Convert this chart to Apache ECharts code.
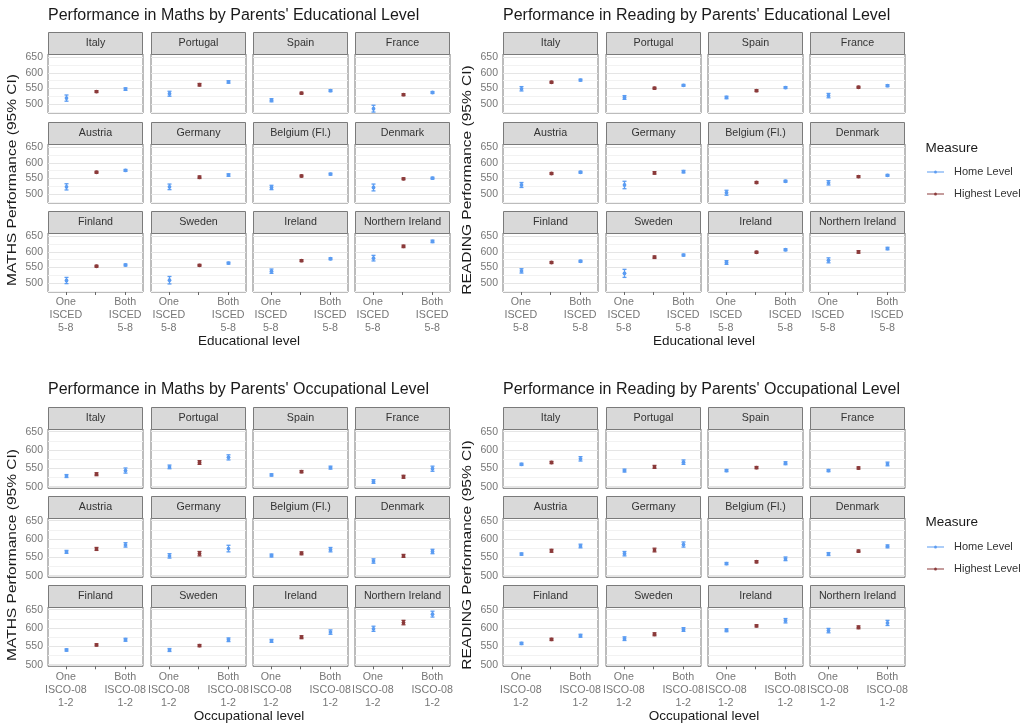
<!DOCTYPE html>
<html><head><meta charset="utf-8">
<script src="https://cdn.jsdelivr.net/npm/echarts@6/dist/echarts.min.js"></script>
<style>html,body{margin:0;padding:0;background:#fff}#c{width:1029px;height:725px}</style>
</head><body><div id="c"></div>
<script>
// ---------- DATA ----------
const countries = ['Italy','Portugal','Spain','France','Austria','Germany','Belgium (Fl.)','Denmark','Finland','Sweden','Ireland','Northern Ireland'];
const eduLabels = ['One\nISCED\n5-8', '', 'Both\nISCED\n5-8'];
const occLabels = ['One\nISCO-08\n1-2', '', 'Both\nISCO-08\n1-2'];
const yTicks = [500, 550, 600, 650];
const yMinor = [475, 525, 575, 625, 675];
const measures = ['Home Level', 'Highest Level'];

// Maths by parents' educational level (mean, 95% CI half-width)
const mathsEduOne    = [519,533,512,485,523,523,521,521,508,509,538,580];
const mathsEduOneCI  = [10,8,5,11,10,9,7,11,10,12,7,9];
const mathsEduHigh   = [540,562,535,530,570,554,558,549,554,557,572,618];
const mathsEduHighCI = [3,4,3,3,3,4,3,3,3,3,3,4];
const mathsEduBoth   = [548,571,543,537,576,561,564,551,558,564,578,634];
const mathsEduBothCI = [4,4,3,3,3,4,3,3,3,3,3,4];

// Reading by parents' educational level
const readEduOne    = [549,521,521,527,529,529,504,536,539,531,566,573];
const readEduOneCI  = [7,6,4,7,8,12,8,7,7,13,6,8];
const readEduHigh   = [570,551,543,554,566,568,537,556,566,583,599,600];
const readEduHighCI = [3,3,3,3,3,4,3,3,3,4,3,4];
const readEduBoth   = [577,560,553,559,570,572,541,560,570,590,607,611];
const readEduBothCI = [3,3,3,3,3,4,3,3,3,3,3,4];

// Maths by parents' occupational level
const mathsOccOne    = [529,554,532,514,565,554,555,540,540,540,565,598];
const mathsOccOneCI  = [4,5,3,5,4,6,4,6,3,4,4,7];
const mathsOccHigh   = [534,566,541,527,573,560,561,554,554,552,575,615];
const mathsOccHighCI = [4,5,3,4,4,6,4,4,3,3,4,6];
const mathsOccBoth   = [544,580,552,549,584,574,571,566,568,568,589,638];
const mathsOccBothCI = [7,7,4,7,6,9,6,6,4,5,6,8];

// Reading by parents' occupational level
const readOccOne    = [561,544,544,544,559,560,533,559,558,571,594,593];
const readOccOneCI  = [3,4,3,3,3,6,3,4,3,5,4,6];
const readOccHigh   = [566,554,552,551,568,570,538,567,569,583,606,602];
const readOccHighCI = [3,4,3,3,4,5,3,3,3,4,3,4];
const readOccBoth   = [576,567,564,562,581,585,546,580,579,596,620,614];
const readOccBothCI = [6,6,4,5,5,7,5,4,4,5,6,7];

// ---------- LAYOUT / STYLE ----------
const FONT = '"Liberation Sans", Arial, Helvetica, sans-serif';
const BLUE = '#5b9cf2', RED = '#8b3a3a';
const COL_L = [48, 151, 253, 355], COL_W = 95;
const TOP = {strip0: 32, pitch: 89.7, stripH: 22, panelH: 59, yMin: 471, yMax: 661, titleY: 16, xTitleY: 341, yTitleY: 180, legendTop: 165, measureY: 148.5};
const BOT = {strip0: 406.5, pitch: 89.3, stripH: 22, panelH: 59.3, yMin: 495.5, yMax: 657.5, titleY: 390, xTitleY: 716, yTitleY: 555, legendTop: 540, measureY: 522};

const quads = [
  {x0: 0, L: TOP, title: "Performance in Maths by Parents' Educational Level", yTitle: 'MATHS Performance (95% CI)', xTitle: 'Educational level', labels: eduLabels,
   one: mathsEduOne, oneCI: mathsEduOneCI, high: mathsEduHigh, highCI: mathsEduHighCI, both: mathsEduBoth, bothCI: mathsEduBothCI, legend: false},
  {x0: 455, L: TOP, title: "Performance in Reading by Parents' Educational Level", yTitle: 'READING Performance (95% CI)', xTitle: 'Educational level', labels: eduLabels,
   one: readEduOne, oneCI: readEduOneCI, high: readEduHigh, highCI: readEduHighCI, both: readEduBoth, bothCI: readEduBothCI, legend: true},
  {x0: 0, L: BOT, title: "Performance in Maths by Parents' Occupational Level", yTitle: 'MATHS Performance (95% CI)', xTitle: 'Occupational level', labels: occLabels,
   one: mathsOccOne, oneCI: mathsOccOneCI, high: mathsOccHigh, highCI: mathsOccHighCI, both: mathsOccBoth, bothCI: mathsOccBothCI, legend: false},
  {x0: 455, L: BOT, title: "Performance in Reading by Parents' Occupational Level", yTitle: 'READING Performance (95% CI)', xTitle: 'Occupational level', labels: occLabels,
   one: readOccOne, oneCI: readOccOneCI, high: readOccHigh, highCI: readOccHighCI, both: readOccBoth, bothCI: readOccBothCI, legend: true}
];

function renderBar(params, api) {
  const x = api.value(0);
  const c = api.coord([x, api.value(1)]);
  const lo = api.coord([x, api.value(2)]);
  const hi = api.coord([x, api.value(3)]);
  const col = api.visual('color');
  const px = Math.round(c[0]) + 0.5;
  const st = {stroke: col, lineWidth: 1.3};
  return {type: 'group', children: [
    {type: 'line', shape: {x1: px, y1: lo[1], x2: px, y2: hi[1]}, style: st},
    {type: 'line', shape: {x1: px - 2, y1: lo[1], x2: px + 2, y2: lo[1]}, style: st},
    {type: 'line', shape: {x1: px - 2, y1: hi[1], x2: px + 2, y2: hi[1]}, style: st},
    {type: 'circle', shape: {cx: px, cy: c[1], r: 1.9}, style: {fill: col}}
  ]};
}

function txt(x, y, text, size, color, align, rot, sx) {
  return {type: 'text', x: x, y: y, rotation: rot || 0, scaleX: sx || 1, silent: true, z: 10,
    style: {text: text, fill: color, font: size + 'px ' + FONT, fontSize: size, fontFamily: FONT,
      align: align || 'center', verticalAlign: 'middle', textAlign: align || 'center', textVerticalAlign: 'middle'}};
}

const grids = [], xAxes = [], yAxes = [], series = [], graphic = [], legends = [];
const KEY = 'path://M0,1 L17,1 L17,2 L0,2 Z M7,1.5 A1.5,1.5 0 1 1 10,1.5 A1.5,1.5 0 1 1 7,1.5 Z';

quads.forEach(q => {
  const L = q.L;
  graphic.push(txt(q.x0 + 48, L.titleY, q.title, 16, '#1a1a1a', 'left'));
  graphic.push(txt(q.x0 + 249, L.xTitleY, q.xTitle, 13.5, '#1a1a1a', 'center'));
  graphic.push(txt(q.x0 + 12, L.yTitleY, q.yTitle, 13.5, '#1a1a1a', 'center', Math.PI / 2, 1.15));
  for (let i = 0; i < 12; i++) {
    const r = Math.floor(i / 4), c = i % 4;
    const left = q.x0 + COL_L[c];
    const stripTop = Math.round(L.strip0 + r * L.pitch);
    const top = stripTop + L.stripH;
    const gi = grids.length;
    grids.push({left: left, top: top, width: COL_W, height: L.panelH, show: true,
      borderColor: '#7a7a7a', borderWidth: 1, backgroundColor: '#fff'});
    const bottomRow = r === 2, firstCol = c === 0;
    xAxes.push({type: 'value', gridIndex: gi, min: -0.6, max: 2.6,
      axisLine: {show: false}, splitLine: {show: false},
      axisTick: {show: bottomRow, customValues: [0, 1, 2], length: 3, lineStyle: {color: '#666'}},
      axisLabel: {show: bottomRow, customValues: [0, 1, 2], margin: 4, color: '#777', fontSize: 10.7, lineHeight: 13, fontFamily: FONT,
        formatter: v => q.labels[Math.round(v)]}});
    yAxes.push({type: 'value', gridIndex: gi, min: L.yMin, max: L.yMax,
      axisLine: {show: false}, splitLine: {show: false},
      axisTick: {show: firstCol, customValues: yTicks, length: 3, lineStyle: {color: '#666'}},
      axisLabel: {show: firstCol, customValues: yTicks, margin: 5, color: '#777', fontSize: 10.5, fontFamily: FONT}});
    const ml = yMinor.filter(v => v > L.yMin && v < L.yMax).map(v => ({yAxis: v, lineStyle: {color: '#f2f2f2', width: 1, type: 'solid'}}))
      .concat(yTicks.map(v => ({yAxis: v, lineStyle: {color: '#e5e5e5', width: 1, type: 'solid'}})));
    series.push({type: 'scatter', name: 'grid', xAxisIndex: gi, yAxisIndex: gi, data: [], z: 1, silent: true,
      markLine: {silent: true, z: 1, symbol: ['none', 'none'], label: {show: false}, animation: false, data: ml}});
    series.push({type: 'custom', name: measures[0], xAxisIndex: gi, yAxisIndex: gi, z: 20, itemStyle: {color: BLUE},
      renderItem: renderBar, encode: {x: 0, y: [1, 2, 3]},
      data: [[0, q.one[i], q.one[i] - q.oneCI[i], q.one[i] + q.oneCI[i]],
             [2, q.both[i], q.both[i] - q.bothCI[i], q.both[i] + q.bothCI[i]]]});
    series.push({type: 'custom', name: measures[1], xAxisIndex: gi, yAxisIndex: gi, z: 20, itemStyle: {color: RED},
      renderItem: renderBar, encode: {x: 0, y: [1, 2, 3]},
      data: [[1, q.high[i], q.high[i] - q.highCI[i], q.high[i] + q.highCI[i]]]});
    const rx = Math.round(left) + 0.5, ry = stripTop + 0.5;
    graphic.push({type: 'rect', silent: true, z: 5, shape: {x: rx, y: ry, width: COL_W - 1, height: L.stripH},
      style: {fill: '#d9d9d9', stroke: '#7a7a7a', lineWidth: 1}});
    graphic.push(txt(left + COL_W / 2, stripTop + L.stripH / 2 + 0.5, countries[i], 10.7, '#333', 'center'));
  }
  if (q.legend) {
    graphic.push(txt(925.5, L.measureY, 'Measure', 13.5, '#1a1a1a', 'left'));
    legends.push({left: 927, top: L.legendTop, orient: 'vertical', padding: 0, itemWidth: 17, itemHeight: 3, itemGap: 8,
      icon: KEY, selectedMode: false, data: measures,
      textStyle: {fontSize: 11, color: '#333', lineHeight: 14, fontFamily: FONT, padding: [0, 0, 0, 5]}});
  }
});

const chart = echarts.init(document.getElementById('c'), null, {renderer: 'canvas'});
chart.setOption({
  animation: false,
  backgroundColor: '#fff',
  textStyle: {fontFamily: FONT},
  grid: grids, xAxis: xAxes, yAxis: yAxes, series: series, legend: legends, graphic: graphic
});
</script></body></html>
